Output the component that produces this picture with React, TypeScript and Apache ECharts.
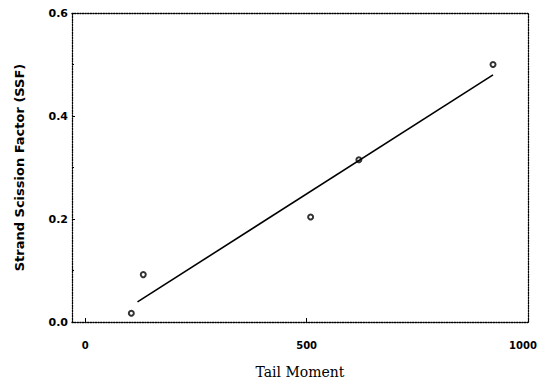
import React, { useEffect, useRef } from "react";
import * as echarts from "echarts";

const tailMoment = [104, 131, 509, 618, 921];
const ssfValues = [0.017, 0.092, 0.204, 0.315, 0.500];
const fitX = [118, 921];
const fitY = [0.039, 0.48];
const xTickLabels = [0, 500, 1000];
const yTickLabels = [0, 0.2, 0.4, 0.6];

export default function App() {
  const ref = useRef<HTMLDivElement>(null);
  useEffect(() => {
    document.body.style.margin = "0";
    const chart = echarts.init(ref.current!, null, { renderer: "svg" });
    const dotted = { color: "#000", type: "dotted" as const, width: 1.3 };
    const tickFont = { fontFamily: "DejaVu Sans", fontWeight: "bold" as const, fontSize: 10, color: "#000" };
    chart.setOption({
      animation: false,
      backgroundColor: "#fff",
      grid: { left: 72, right: 11, top: 13, bottom: 65, outerBoundsMode: "none", containLabel: false },
      xAxis: [
        {
          type: "value",
          min: -30,
          max: 1000,
          name: "Tail Moment",
          nameLocation: "middle",
          nameGap: 43,
          nameTextStyle: { fontFamily: "DejaVu Serif", fontSize: 14, color: "#000" },
          axisLine: { show: true, onZero: false, lineStyle: dotted },
          axisTick: { show: true, inside: true, length: 4, customValues: xTickLabels, lineStyle: { color: "#000" } },
          axisLabel: {
            customValues: xTickLabels,
            margin: 18,
            ...tickFont,
            formatter: (v: number) => (v === xTickLabels[xTickLabels.length - 1] ? `{e|${v}}` : String(v)),
            rich: { e: { ...tickFont, padding: [0, 10, 0, 0] } },
          },
          splitLine: { show: false },
        },
        {
          type: "value",
          position: "top",
          min: -30,
          max: 1000,
          axisLine: { show: true, onZero: false, lineStyle: dotted },
          axisTick: { show: false },
          axisLabel: { show: false },
          splitLine: { show: false },
        },
      ],
      yAxis: [
        {
          type: "value",
          min: 0,
          max: 0.6,
          interval: 0.2,
          name: "Strand Scission Factor (SSF)",
          nameLocation: "middle",
          nameGap: 46,
          nameTextStyle: { fontFamily: "DejaVu Sans", fontWeight: "bold", fontSize: 13, color: "#000" },
          axisLine: { show: true, onZero: false, lineStyle: dotted },
          axisTick: { show: true, inside: true, length: 3, lineStyle: { color: "#000" } },
          minorTick: { show: true, splitNumber: 2, length: 2, lineStyle: { color: "#000" } },
          axisLabel: {
            margin: 4,
            ...tickFont,
            fontSize: 11,
            formatter: (v: number) => (yTickLabels.includes(v) ? v.toFixed(1) : ""),
          },
          splitLine: { show: false },
        },
        {
          type: "value",
          position: "right",
          min: 0,
          max: 0.6,
          interval: 0.2,
          axisLine: { show: true, onZero: false, lineStyle: dotted },
          axisTick: { show: false },
          axisLabel: { show: false },
          splitLine: { show: false },
        },
      ],
      series: [
        {
          type: "line",
          data: fitX.map((x, i) => [x, fitY[i]]),
          showSymbol: false,
          lineStyle: { color: "#000", width: 1.6 },
        },
        {
          type: "scatter",
          data: tailMoment.map((x, i) => [x, ssfValues[i]]),
          symbol: "emptyCircle",
          symbolSize: 5,
          itemStyle: { color: "#000", borderColor: "#000", borderWidth: 1.3 },
        },
      ],
    });
    return () => chart.dispose();
  }, []);
  return <div ref={ref} style={{ width: 539, height: 387 }} />;
}
